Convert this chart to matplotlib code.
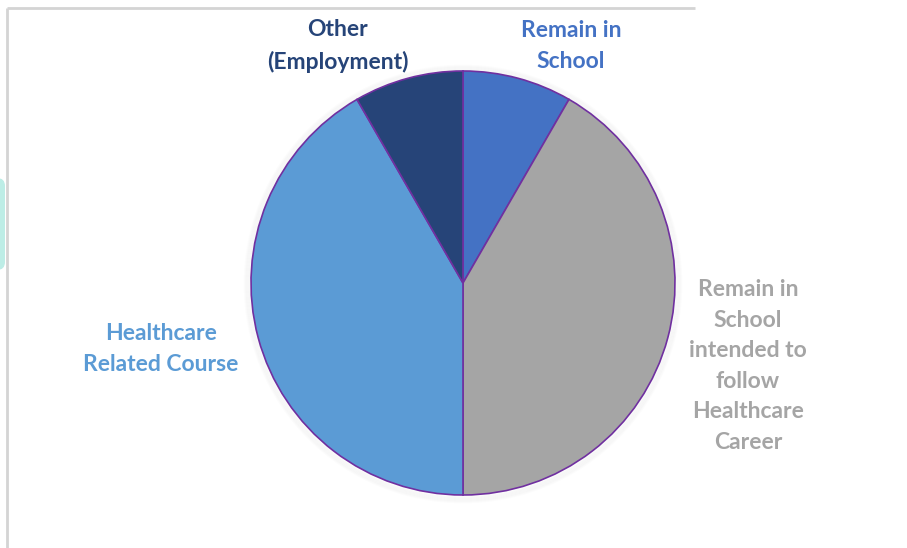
import matplotlib.pyplot as plt
from matplotlib.patches import FancyBboxPatch, Circle

labels = ['Remain in\nSchool',
          'Remain in\nSchool\nintended to\nfollow\nHealthcare\nCareer',
          'Healthcare\nRelated Course',
          'Other\n(Employment)']
values = [1, 5, 5, 1]
colors = ['#4472C4', '#A5A5A5', '#5B9BD5', '#264478']
label_pos = [(571, 502), (748, 182), (161, 199), (338, 502)]

plt.rcParams['font.family'] = ['Lato', 'DejaVu Sans']

fig = plt.figure(figsize=(9.07, 5.48), dpi=100)
ax = fig.add_axes([0, 0, 1, 1])

cx, cy, r = 463, 265, 212

# soft shadow around the pie
for i in range(6):
    ax.add_patch(Circle((cx, cy - 1), r + 1 + i, facecolor='none',
                        edgecolor='#000000', alpha=0.01, lw=2, zorder=1))

ax.pie(values, colors=colors, startangle=90, counterclock=False,
       center=(cx, cy), radius=r,
       wedgeprops=dict(edgecolor='#7030A0', linewidth=1.2, zorder=2))

for lab, col, (x, y) in zip(labels, colors, label_pos):
    ax.text(x, y, lab, color=col, fontsize=16.5, fontweight='bold',
            ha='center', va='center', multialignment='center',
            linespacing=1.56)

# frame lines and the teal tab on the left edge
ax.plot([7, 7], [0, 540], color='#D4D4D4', lw=2, solid_capstyle='butt')
ax.plot([7, 695], [540, 540], color='#D4D4D4', lw=2, solid_capstyle='butt')
ax.add_patch(FancyBboxPatch((-20, 278), 25, 92,
                            boxstyle='round,pad=0,rounding_size=8',
                            facecolor='#BDEDE6', edgecolor='none'))

ax.set_xlim(0, 907)
ax.set_ylim(0, 548)
ax.set_aspect('auto')
ax.axis('off')

fig.savefig('out.png', dpi=100)
